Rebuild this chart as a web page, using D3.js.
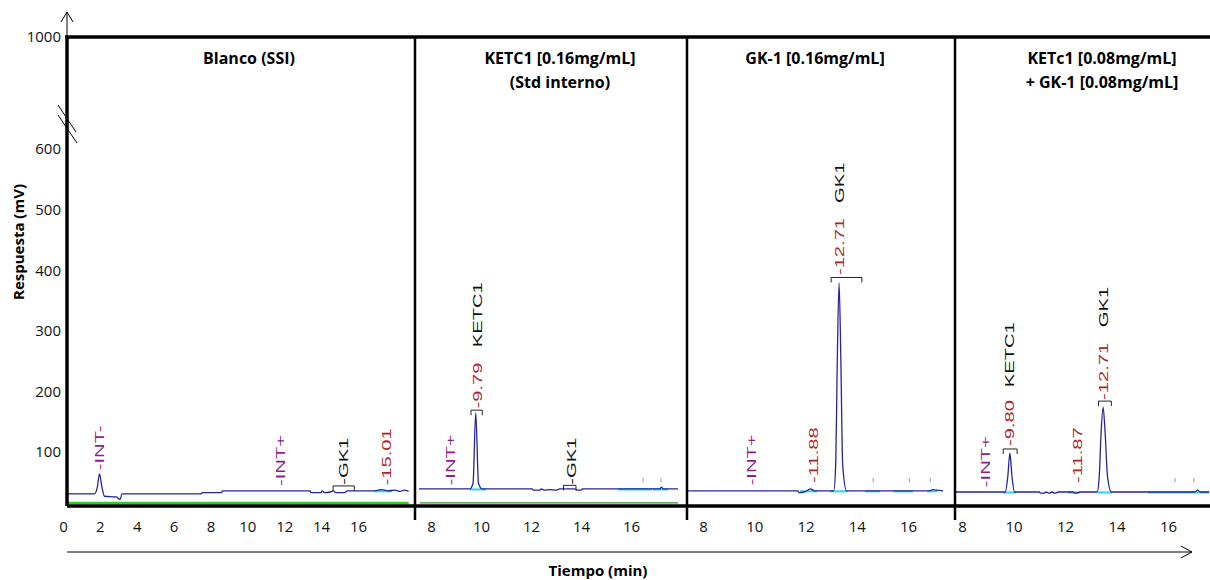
<!DOCTYPE html>
<html>
<head lang="es">
    <meta charset="utf-8">
    <title>Cromatogramas KETC1 / GK-1</title>
    <script src="https://cdn.jsdelivr.net/npm/d3@7"></script>
    <style type="text/css">
        body {
            margin: 0;
            background-color: #fff;
        }

        svg text {
            font-family: "Open Sans", sans-serif;
        }

        .tick text {
            font-size: 15px;
            fill: #111;
        }

        .titulo {
            font-size: 16px;
            font-weight: bold;
        }

        .eje-titulo {
            font-size: 15px;
            font-weight: bold;
        }

        .pk {
            font-family: "Liberation Sans", Arial, sans-serif !important;
            font-size: 13px;
        }
    </style>
</head>
<body>
<svg id="chart" width="1210" height="580"></svg>
<script type="text/javascript">
    // ---- datos ----
    var titles = [
        ["Blanco (SSI)"],
        ["KETC1 [0.16mg/mL]", "(Std interno)"],
        ["GK-1 [0.16mg/mL]"],
        ["KETc1 [0.08mg/mL]", "+ GK-1 [0.08mg/mL]"]
    ];

    var xTickValues = [
        [0, 2, 4, 6, 8, 10, 12, 14, 16],
        [8, 10, 12, 14, 16],
        [8, 10, 12, 14, 16],
        [8, 10, 12, 14, 16]
    ];
    var yTickValues = [100, 200, 300, 400, 500, 600];
    var yBreakTick = 1000;

    // [tiempo (min), respuesta (mV)]
    var blancoTrace = [[0.2, 31], [1.7, 31], [1.85, 40], [1.98, 64], [2.1, 44], [2.25, 27], [2.9, 26], [3.0, 23],
        [3.1, 22], [3.2, 31], [7.5, 31], [7.55, 33], [8.6, 33], [8.65, 36], [13.4, 36], [13.45, 33], [14.0, 33],
        [14.05, 36], [14.2, 33], [14.5, 34], [14.65, 36], [14.8, 33], [15.3, 33], [15.4, 36], [16.9, 36],
        [17.3, 38], [17.6, 36], [18.0, 37], [18.3, 35], [18.5, 37], [18.75, 35]];
    var ketc1Trace = [[7.52, 39], [9.55, 39], [9.68, 48], [9.79, 165], [9.9, 48], [10.05, 39], [12.05, 39],
        [12.1, 37], [12.35, 37], [12.4, 39], [12.55, 37], [12.75, 38], [13.0, 37], [13.15, 39], [13.75, 39],
        [13.85, 37], [14.0, 37], [14.05, 39], [17.15, 39], [17.22, 42], [17.3, 39], [17.88, 39]];
    var gk1Trace = [[7.38, 36], [11.7, 36], [11.75, 33], [11.95, 34], [12.05, 36], [12.2, 39], [12.35, 36],
        [13.1, 36], [13.18, 80], [13.24, 250], [13.31, 379], [13.38, 250], [13.45, 80], [13.6, 36],
        [16.85, 36], [16.95, 38], [17.1, 37], [17.37, 36]];
    var mixTrace = [[7.7, 34], [9.68, 34], [9.78, 60], [9.86, 98], [9.94, 60], [10.04, 34], [11.0, 34],
        [11.05, 32], [11.2, 32], [11.25, 34], [11.4, 32], [11.5, 34], [11.6, 32], [11.75, 34], [12.3, 34],
        [12.4, 32], [12.6, 34], [13.25, 34], [13.33, 60], [13.4, 130], [13.48, 174], [13.56, 130],
        [13.65, 60], [13.8, 34], [17.05, 34], [17.15, 37], [17.25, 34], [17.6, 34]];
    var traces = [blancoTrace, ketc1Trace, gk1Trace, mixTrace];

    // linea base integrada (cian): [t inicio, t fin, mV]
    var baseSegments = [
        [[16.9, 17.85, 36]],
        [[9.56, 10.2, 39], [15.48, 16.84, 39], [16.88, 17.48, 39]],
        [[11.79, 12.45, 36], [12.96, 13.63, 36], [14.33, 14.91, 36], [15.42, 16.2, 36], [16.75, 17.14, 36]],
        [[9.6, 10.1, 34], [12.12, 12.58, 34], [13.28, 13.83, 34], [15.22, 17.6, 34]]
    ];

    // linea verde inferior: [t inicio, t fin, mV]
    var greenLines = [[0.2, 18.75, 16], [7.55, 17.88, 16], null, null];

    // corchetes de integracion: [t inicio, t fin, mV]
    var brackets = [
        [[14.65, 15.8, 44]],
        [[9.6, 10.05, 169], [13.3, 13.8, 45]],
        [[13.0, 14.2, 388]],
        [[9.6, 10.14, 105], [13.3, 13.8, 184]]
    ];

    // etiquetas de picos: [t, mV, texto, tipo]
    var peakLabels = [
        [[2.0, 70, "-INT-", "int"], [11.8, 44, "-INT+", "int"], [15.2, 46, "-GK1", "name"], [17.55, 45, "-15.01", "rt"]],
        [[8.76, 45, "-INT+", "int"], [9.84, 172, "-9.79", "rt"], [9.84, 273, "KETC1", "name"], [13.6, 46, "-GK1", "name"]],
        [[9.91, 45, "-INT+", "int"], [12.3, 49, "-11.88", "rt"], [13.31, 392, "-12.71", "rt"], [13.31, 511, "GK1", "name"]],
        [[8.9, 42, "-INT+", "int"], [9.86, 110, "-9.80", "rt"], [9.86, 207, "KETC1", "name"],
            [12.47, 49, "-11.87", "rt"], [13.5, 186, "-12.71", "rt"], [13.5, 306, "GK1", "name"]]
    ];

    // marcas rojas pequenas (etiquetas cortadas)
    var smallMarks = [[], [16.48, 17.2], [14.64, 16.05, 16.87], [16.27, 17.0]];

    // ---- disposicion ----
    var frameTop = 37, frameBottom = 506, frameLeft = 67, frameRight = 1210;
    var dividers = [415, 687, 955];
    var xDomains = [[0, 16], [8, 16], [8, 16], [8, 16]];
    var xRanges = [[63, 358], [431, 631], [703, 908], [962, 1168]];
    var titleX = [249, 560, 815, 1102];
    var labelColor = {int: "#8b1f8b", rt: "#a82828", name: "#111"};

    var svg = d3.select("#chart");

    var y = d3.scaleLinear().domain([0, 600]).range([512.6, 149]);

    // trazos de cada panel
    traces.forEach(function (trace, i) {
        var x = d3.scaleLinear().domain(xDomains[i]).range(xRanges[i]);
        var g = svg.append("g");

        if (greenLines[i]) {
            var gl = greenLines[i];
            g.append("line")
                .attr("x1", x(gl[0])).attr("x2", x(gl[1]))
                .attr("y1", y(gl[2])).attr("y2", y(gl[2]))
                .attr("stroke", i === 0 ? "#1ed41e" : "#2f8f2f")
                .attr("stroke-width", i === 0 ? 2.5 : 1.2);
        }

        g.selectAll("line.base")
            .data(baseSegments[i])
            .enter()
            .append("line")
            .attr("class", "base")
            .attr("x1", function (d) { return x(d[0]); })
            .attr("x2", function (d) { return x(d[1]); })
            .attr("y1", function (d) { return y(d[2]) + 0.5; })
            .attr("y2", function (d) { return y(d[2]) + 0.5; })
            .attr("stroke", "#3fd8d4")
            .attr("stroke-width", 2.2);

        var line = d3.line()
            .x(function (d) { return x(d[0]); })
            .y(function (d) { return y(d[1]); })
            .curve(d3.curveMonotoneX);

        g.append("path")
            .datum(trace)
            .attr("d", line)
            .attr("fill", "none")
            .attr("stroke", "#25259a")
            .attr("stroke-width", 1.3);

        g.selectAll("path.bracket")
            .data(brackets[i])
            .enter()
            .append("path")
            .attr("class", "bracket")
            .attr("d", function (d) {
                var yy = y(d[2]);
                return "M" + x(d[0]) + "," + (yy + 5) + "V" + yy + "H" + x(d[1]) + "V" + (yy + 5);
            })
            .attr("fill", "none")
            .attr("stroke", "#222")
            .attr("stroke-width", 1);

        g.selectAll("line.mark")
            .data(smallMarks[i])
            .enter()
            .append("line")
            .attr("class", "mark")
            .attr("x1", function (d) { return x(d); })
            .attr("x2", function (d) { return x(d); })
            .attr("y1", y(50))
            .attr("y2", y(57))
            .attr("stroke", "#c9807a")
            .attr("stroke-width", 1);

        g.selectAll("text.pk")
            .data(peakLabels[i])
            .enter()
            .append("text")
            .attr("class", "pk")
            .attr("transform", function (d) {
                return "translate(" + x(d[0]) + "," + y(d[1]) + ") rotate(-90) scale(1.55,1)";
            })
            .attr("dy", "0.35em")
            .attr("fill", function (d) { return labelColor[d[3]]; })
            .text(function (d) { return d[2]; });

        // eje x del panel (solo etiquetas)
        svg.append("g")
            .attr("transform", "translate(0," + frameBottom + ")")
            .call(d3.axisBottom(x).tickValues(xTickValues[i]).tickSize(0).tickPadding(15).tickFormat(d3.format("d")))
            .call(function (a) { a.select(".domain").remove(); });

        // titulo
        var t = svg.append("text")
            .attr("class", "titulo")
            .attr("text-anchor", "middle")
            .attr("x", titleX[i])
            .attr("y", 64);
        titles[i].forEach(function (s, k) {
            t.append("tspan").attr("x", titleX[i]).attr("dy", k === 0 ? 0 : 24).text(s);
        });
    });

    // eje y
    svg.append("g")
        .attr("transform", "translate(" + frameLeft + ",0)")
        .call(d3.axisLeft(y).tickValues(yTickValues).tickSize(0).tickPadding(6))
        .call(function (a) { a.select(".domain").remove(); });

    svg.append("text")
        .attr("x", frameLeft - 6)
        .attr("y", frameTop)
        .attr("dy", "0.32em")
        .attr("text-anchor", "end")
        .style("font-size", "15px")
        .attr("fill", "#111")
        .text(yBreakTick);

    // marco
    svg.append("line")
        .attr("x1", frameLeft - 2).attr("x2", frameRight)
        .attr("y1", frameTop).attr("y2", frameTop)
        .attr("stroke", "#000").attr("stroke-width", 3.5);
    svg.append("line")
        .attr("x1", frameLeft).attr("x2", frameRight)
        .attr("y1", frameBottom).attr("y2", frameBottom)
        .attr("stroke", "#000").attr("stroke-width", 3.5);
    svg.append("line")
        .attr("x1", frameLeft).attr("x2", frameLeft)
        .attr("y1", frameTop).attr("y2", frameBottom)
        .attr("stroke", "#000").attr("stroke-width", 3.5);

    svg.selectAll("line.div")
        .data(dividers)
        .enter()
        .append("line")
        .attr("class", "div")
        .attr("x1", function (d) { return d; })
        .attr("x2", function (d) { return d; })
        .attr("y1", frameTop)
        .attr("y2", 520)
        .attr("stroke", "#000")
        .attr("stroke-width", 2.5);

    // flecha del eje y
    svg.append("line")
        .attr("x1", frameLeft).attr("x2", frameLeft)
        .attr("y1", frameTop).attr("y2", 12)
        .attr("stroke", "#000").attr("stroke-width", 1);
    svg.append("path")
        .attr("d", "M" + (frameLeft - 6) + ",22L" + frameLeft + ",12L" + (frameLeft + 6) + ",22")
        .attr("fill", "none").attr("stroke", "#000").attr("stroke-width", 1);

    // corte del eje y
    svg.append("path")
        .attr("d", "M58,105L76,132M58,115L77,143")
        .attr("fill", "none").attr("stroke", "#000").attr("stroke-width", 1);

    // flecha del tiempo
    svg.append("line")
        .attr("x1", frameLeft).attr("x2", 1192)
        .attr("y1", 552).attr("y2", 552)
        .attr("stroke", "#000").attr("stroke-width", 1);
    svg.append("path")
        .attr("d", "M1181,546L1192,552L1181,558")
        .attr("fill", "none").attr("stroke", "#000").attr("stroke-width", 1);

    // titulos de ejes
    svg.append("text")
        .attr("class", "eje-titulo")
        .attr("text-anchor", "middle")
        .attr("x", 598)
        .attr("y", 576)
        .text("Tiempo (min)");

    svg.append("text")
        .attr("class", "eje-titulo")
        .attr("text-anchor", "middle")
        .attr("transform", "translate(24,242) rotate(-90)")
        .text("Respuesta (mV)");
</script>
</body>
</html>
